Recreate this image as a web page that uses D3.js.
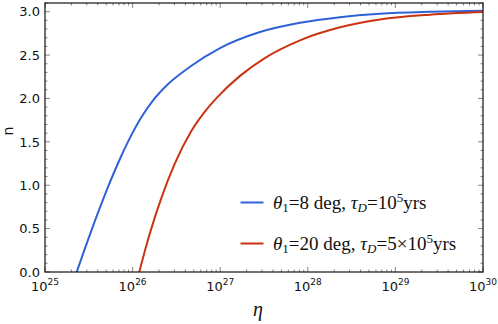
<!DOCTYPE html>
<html>
<head>
<meta charset="utf-8">
<script src="https://cdn.jsdelivr.net/npm/d3@7"></script>
<style>
  body { margin: 0; background: #fff; }
  svg { display: block; }
</style>
</head>
<body>
<script>
// values: x as log10(eta), y as n
const blueLogEta = [25.362, 25.45, 25.551, 25.65, 25.723, 25.85, 25.951, 26.1, 26.236, 26.4, 26.655, 26.998, 27.454, 27.911, 28.368, 28.824, 29.4, 30];
const blueN      = [0, 0.255, 0.538, 0.803, 0.989, 1.291, 1.508, 1.784, 1.981, 2.161, 2.365, 2.58, 2.765, 2.872, 2.937, 2.976, 2.998, 3.01];
const redLogEta  = [26.076, 26.15, 26.218, 26.332, 26.484, 26.674, 26.85, 26.963, 27.226, 27.5, 27.911, 28.368, 28.824, 29.395, 30];
const redN       = [0, 0.28, 0.514, 0.862, 1.254, 1.63, 1.88, 2.01, 2.26, 2.46, 2.67, 2.82, 2.91, 2.965, 2.995];

const xTickExps = [25, 26, 27, 28, 29, 30];
const yTicks = [0, 0.5, 1.0, 1.5, 2.0, 2.5, 3.0];

const seriesLabels = [
  {color: "#2f62d6", theta: "8", tau: ["10", "5", "yrs"], prefix: ""},
  {color: "#cc3311", theta: "20", tau: ["10", "5", "yrs"], prefix: "5×"}
];

const W = 498, H = 324;
const margin = {top: 3, right: 15, bottom: 52, left: 45};
const width = W - margin.left - margin.right,
    height = H - margin.top - margin.bottom;

const svg = d3.select("body").append("svg")
    .attr("width", W).attr("height", H);
const g = svg.append("g")
    .attr("transform", `translate(${margin.left},${margin.top})`);

const x = d3.scaleLinear().domain([25, 30]).range([0, width]);
const y = d3.scaleLinear().domain([0, 3.1]).range([height, 0]);

// minor ticks: log decades and 0.1 steps
const xMinor = [];
for (let e = 25; e < 30; e++) for (let k = 2; k <= 9; k++) xMinor.push(e + Math.log10(k));
const yMinor = d3.range(0, 3.11, 0.1).filter(v => Math.abs(v * 2 - Math.round(v * 2)) > 1e-6);

const tickCol = "#666";
const ticks = g.append("g").attr("stroke", tickCol).attr("stroke-width", 0.8);
// bottom & top
xTickExps.forEach(e => {
  ticks.append("line").attr("x1", x(e)).attr("x2", x(e)).attr("y1", height).attr("y2", height - 5);
  ticks.append("line").attr("x1", x(e)).attr("x2", x(e)).attr("y1", 0).attr("y2", 5);
});
xMinor.forEach(v => {
  ticks.append("line").attr("x1", x(v)).attr("x2", x(v)).attr("y1", height).attr("y2", height - 2.5);
  ticks.append("line").attr("x1", x(v)).attr("x2", x(v)).attr("y1", 0).attr("y2", 2.5);
});
// left & right
yTicks.forEach(v => {
  ticks.append("line").attr("y1", y(v)).attr("y2", y(v)).attr("x1", 0).attr("x2", 5);
  ticks.append("line").attr("y1", y(v)).attr("y2", y(v)).attr("x1", width).attr("x2", width - 5);
});
yMinor.forEach(v => {
  ticks.append("line").attr("y1", y(v)).attr("y2", y(v)).attr("x1", 0).attr("x2", 2.5);
  ticks.append("line").attr("y1", y(v)).attr("y2", y(v)).attr("x1", width).attr("x2", width - 2.5);
});

// curves
const line = d3.line().x(d => x(d[0])).y(d => y(d[1])).curve(d3.curveMonotoneX);
const series = [
  {pts: d3.zip(blueLogEta, blueN), color: seriesLabels[0].color},
  {pts: d3.zip(redLogEta, redN), color: seriesLabels[1].color}
];
g.append("defs").append("clipPath").attr("id", "clip")
  .append("rect").attr("width", width).attr("height", height);
g.append("g").attr("clip-path", "url(#clip)")
  .selectAll("path").data(series).join("path")
    .attr("fill", "none")
    .attr("stroke", d => d.color)
    .attr("stroke-width", 2)
    .attr("d", d => line(d.pts));

// frame
g.append("rect").attr("width", width).attr("height", height)
  .attr("fill", "none").attr("stroke", "#111").attr("stroke-width", 1.2);

// y tick labels
g.append("g").selectAll("text").data(yTicks).join("text")
  .attr("x", -5).attr("y", d => y(d)).attr("dy", "0.36em")
  .attr("text-anchor", "end")
  .attr("font-family", "DejaVu Sans, sans-serif").attr("font-size", 13)
  .attr("fill", "#111")
  .text(d => d.toFixed(1));

// x tick labels 10^e
const xl = g.append("g").selectAll("text").data(xTickExps).join("text")
  .attr("x", d => x(d)).attr("y", height + 19)
  .attr("text-anchor", "middle")
  .attr("font-family", "DejaVu Sans, sans-serif").attr("font-size", 13)
  .attr("fill", "#111");
xl.append("tspan").text("10");
xl.append("tspan").attr("font-size", 9).attr("dy", -6).text(d => d);

// axis titles
svg.append("text")
  .attr("transform", `translate(13,${margin.top + 128}) rotate(-90)`)
  .attr("text-anchor", "middle")
  .attr("font-family", "DejaVu Sans, sans-serif").attr("font-size", 14)
  .attr("fill", "#111")
  .text("n");
svg.append("text")
  .attr("x", 258).attr("y", 316)
  .attr("text-anchor", "middle")
  .attr("font-family", "Liberation Serif, serif").attr("font-style", "italic").attr("font-size", 20)
  .attr("fill", "#111")
  .text("η");

// legend
const legendY = [202.5, 243.5];
seriesLabels.forEach((s, i) => {
  const ly = legendY[i];
  svg.append("line").attr("x1", 240.5).attr("x2", 263.5).attr("y1", ly).attr("y2", ly)
    .attr("stroke", s.color).attr("stroke-width", 2);
  const t = svg.append("text")
    .attr("x", 273).attr("y", ly + 6.5)
    .attr("font-family", "Liberation Serif, serif").attr("font-size", 19)
    .attr("fill", "#111");
  t.append("tspan").attr("font-style", "italic").text("θ");
  t.append("tspan").attr("font-size", 13).attr("dy", 3).text("1");
  t.append("tspan").attr("dy", -3).text(`=${s.theta} deg, `);
  t.append("tspan").attr("font-style", "italic").text("τ");
  t.append("tspan").attr("font-style", "italic").attr("font-size", 13).attr("dy", 3).text("D");
  t.append("tspan").attr("dy", -3).text("=" + s.prefix + s.tau[0]);
  t.append("tspan").attr("font-size", 13).attr("dy", -7).text(s.tau[1]);
  t.append("tspan").attr("dy", 7).text(s.tau[2]);
});
</script>
</body>
</html>
